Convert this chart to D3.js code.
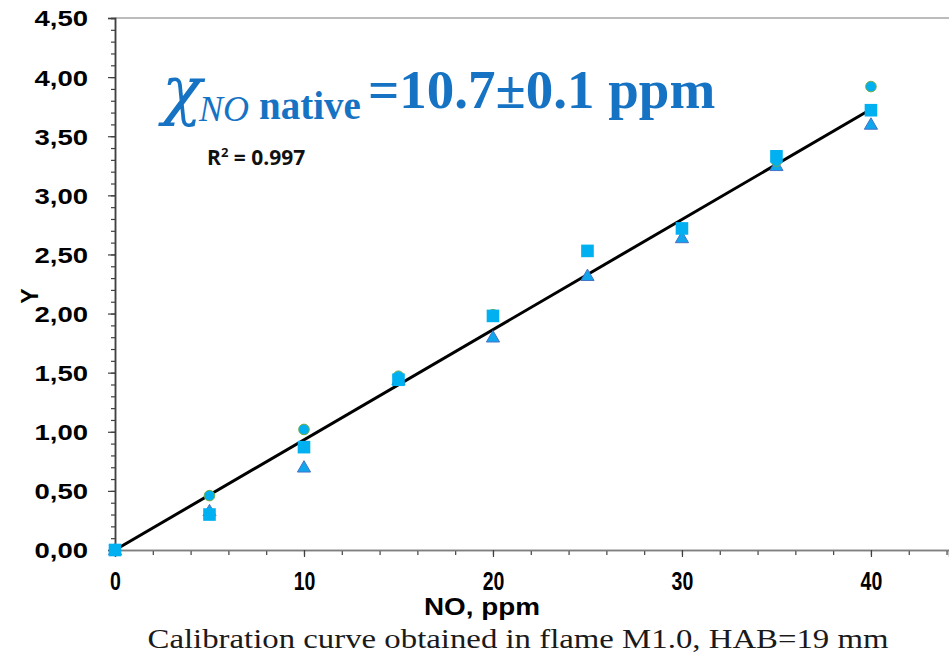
<!DOCTYPE html>
<html>
<head>
<meta charset="utf-8">
<script src="https://cdn.jsdelivr.net/npm/d3@7"></script>
<style>
  html, body { margin: 0; padding: 0; background: #fff; }
  svg { display: block; }
</style>
</head>
<body>
<svg id="chart" width="949" height="656"></svg>
<script>
// concentrations NO, ppm
const concentrations = [0, 5, 10, 15, 20, 25, 30, 35, 40];
// three repeated measurements
const seriesCircle = [0, 0.46, 1.02, 1.47, 1.99, 2.53, 2.72, 3.29, 3.92];
const seriesSquare = [0, 0.30, 0.87, 1.44, 1.98, 2.53, 2.72, 3.33, 3.72];
const seriesTriangle = [0, 0.33, 0.70, 1.44, 1.80, 2.32, 2.64, 3.25, 3.60];
// linear fit through origin
const fitSlope = 0.0932;
const fitRange = [0, 40];
const xTicks = [0, 10, 20, 30, 40];
const yTicks = [0, 0.5, 1, 1.5, 2, 2.5, 3, 3.5, 4, 4.5];

const svg = d3.select("#chart");
const W = 949;
const plotLeft = 115, plotTop = 18, plotBottom = 550;

const x = d3.scaleLinear().domain([0, 44.13]).range([plotLeft, W]);
const y = d3.scaleLinear().domain([0, 4.5]).range([plotBottom, plotTop]);

const fmtY = v => d3.format(".2f")(v).replace(".", ",");
const sans = "'Liberation Sans', Arial, sans-serif";

// top border
svg.append("line")
  .attr("x1", plotLeft).attr("x2", W)
  .attr("y1", y(4.5)).attr("y2", y(4.5))
  .attr("stroke", "#a6a6a6").attr("stroke-width", 1.5);

// y axis: minor + major ticks
const yAxisMinor = d3.axisLeft(y).tickValues(d3.range(0, 4.5001, 0.1)).tickSize(4).tickFormat("");
const yAxisMajor = d3.axisLeft(y).tickValues(yTicks).tickSize(7).tickFormat(fmtY);

const gyMinor = svg.append("g").attr("transform", `translate(${plotLeft},0)`).call(yAxisMinor);
const gy = svg.append("g").attr("transform", `translate(${plotLeft},0)`).call(yAxisMajor);
[gyMinor, gy].forEach(g => {
  g.select(".domain").attr("stroke", "#404040").attr("stroke-width", 1.5);
  g.selectAll(".tick line").attr("stroke", "#404040").attr("stroke-width", 1.2);
});
// labels are drawn wide in the original: stretch horizontally
gy.selectAll(".tick text")
  .attr("font-family", sans)
  .attr("font-weight", "bold")
  .attr("font-size", 22)
  .attr("fill", "#000")
  .attr("x", -27 / 1.25)
  .attr("dy", "0.36em")
  .attr("transform", "scale(1.25,1)");

// x axis
const xAxisMinor = d3.axisBottom(x).tickValues(d3.range(0, 44.1, 2)).tickSize(5).tickFormat("");
const xAxisMajor = d3.axisBottom(x).tickValues(xTicks).tickSize(7).tickFormat(d3.format("d")).tickPadding(15);
const gxMinor = svg.append("g").attr("transform", `translate(0,${plotBottom})`).call(xAxisMinor);
const gx = svg.append("g").attr("transform", `translate(0,${plotBottom})`).call(xAxisMajor);
[gxMinor, gx].forEach(g => {
  g.select(".domain").attr("stroke", "#7f7f7f").attr("stroke-width", 1.5);
  g.selectAll(".tick line").attr("stroke", "#404040").attr("stroke-width", 1.2);
});
// labels are condensed in the original
gx.selectAll(".tick text")
  .attr("font-family", sans)
  .attr("font-weight", "bold")
  .attr("font-size", 25)
  .attr("fill", "#000")
  .attr("transform", "scale(0.78,1)");

// axis titles
svg.append("text")
  .attr("transform", `translate(38,296) rotate(-90)`)
  .attr("text-anchor", "middle")
  .attr("font-family", sans)
  .attr("font-weight", "bold")
  .attr("font-size", 23)
  .text("Y");

svg.append("text")
  .attr("x", 482).attr("y", 615)
  .attr("text-anchor", "middle")
  .attr("font-family", sans)
  .attr("font-weight", "bold")
  .attr("font-size", 24)
  .attr("textLength", 116).attr("lengthAdjust", "spacingAndGlyphs")
  .text("NO, ppm");

// caption
svg.append("text")
  .attr("x", 518).attr("y", 648)
  .attr("text-anchor", "middle")
  .attr("font-family", "'Liberation Serif', 'DejaVu Serif', serif")
  .attr("font-size", 28)
  .attr("fill", "#1a1a1a")
  .attr("textLength", 741).attr("lengthAdjust", "spacingAndGlyphs")
  .text("Calibration curve obtained in flame M1.0, HAB=19 mm");

// fit line
svg.append("line")
  .attr("x1", x(fitRange[0])).attr("y1", y(fitSlope * fitRange[0]))
  .attr("x2", x(fitRange[1])).attr("y2", y(fitSlope * fitRange[1]))
  .attr("stroke", "#000").attr("stroke-width", 3);

const fill = "#00b0f0";
const pts = s => concentrations.map((c, i) => ({ c, v: s[i] }));

// triangles
svg.append("g").selectAll("path").data(pts(seriesTriangle)).join("path")
  .attr("d", d3.symbol(d3.symbolTriangle, 75))
  .attr("transform", d => `translate(${x(d.c)},${y(d.v) + 1})`)
  .attr("fill", "#10a6ee").attr("stroke", "#4472c4").attr("stroke-width", 1);

// circles
svg.append("g").selectAll("circle").data(pts(seriesCircle)).join("circle")
  .attr("cx", d => x(d.c)).attr("cy", d => y(d.v)).attr("r", 5.3)
  .attr("fill", fill).attr("stroke", "#70ad47").attr("stroke-width", 1);

// squares
svg.append("g").selectAll("rect").data(pts(seriesSquare)).join("rect")
  .attr("x", d => x(d.c) - 6.3).attr("y", d => y(d.v) - 6.3)
  .attr("width", 12.6).attr("height", 12.6)
  .attr("fill", fill);

// R^2 annotation
const r2 = svg.append("text")
  .attr("x", 207).attr("y", 165)
  .attr("font-family", "'Open Sans', 'Liberation Sans', sans-serif")
  .attr("font-weight", "bold")
  .attr("font-size", 21)
  .attr("fill", "#111");
r2.append("tspan").text("R");
r2.append("tspan").attr("dy", -8).attr("font-size", 13).text("2");
r2.append("tspan").attr("dy", 8).text(" = 0.997");

// native concentration label
const blue = "#1673c3";
const serif = "'Liberation Serif', 'DejaVu Serif', serif";
svg.append("text")
  .attr("x", 162).attr("y", 112)
  .attr("font-family", "'DejaVu Serif', serif").attr("font-style", "italic")
  .attr("font-size", 66).attr("fill", blue)
  .text("χ");
svg.append("text")
  .attr("x", 199).attr("y", 121)
  .attr("font-family", serif).attr("font-style", "italic")
  .attr("font-size", 36).attr("fill", blue)
  .text("NO");
svg.append("text")
  .attr("x", 259).attr("y", 119)
  .attr("font-family", serif).attr("font-weight", "bold")
  .attr("font-size", 39).attr("fill", blue)
  .text("native");
svg.append("text")
  .attr("x", 368).attr("y", 108)
  .attr("font-family", serif).attr("font-weight", "bold")
  .attr("font-size", 55).attr("fill", blue)
  .text("=10.7±0.1 ppm");
</script>
</body>
</html>
